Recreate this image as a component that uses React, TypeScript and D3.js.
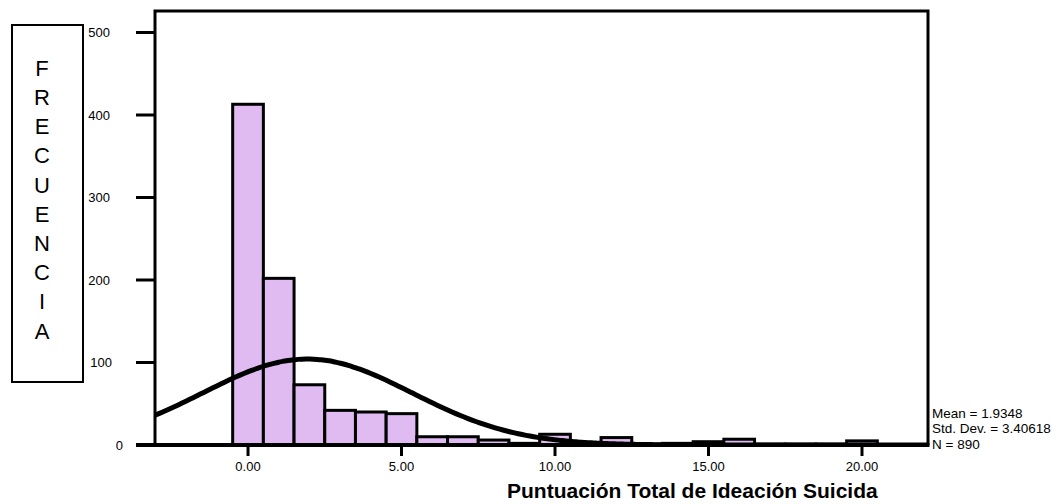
import React, { useRef, useEffect } from 'react';
import { select, scaleLinear, line, curveBasis } from 'd3';

// histogram bins (centered on integers, width 1)
const binCenters = [0, 1, 2, 3, 4, 5, 6, 7, 8, 9, 10, 11, 12, 13, 14, 15, 16, 17, 18, 19, 20, 21, 22];
const binCounts = [413, 202, 73, 42, 40, 38, 10, 10, 6, 2, 13, 2, 9, 1, 2, 4, 7, 1, 1, 1, 5, 0, 0];

const yTicks = [0, 100, 200, 300, 400, 500];
const xTicks = [0, 5, 10, 15, 20];

const mean = 1.9348;
const stdDev = 3.40618;
const n = 890;

const yLetters = ['F', 'R', 'E', 'C', 'U', 'E', 'N', 'C', 'I', 'A'];
const xTitle = 'Puntuación Total de Ideación Suicida';
const statLines = ['Mean = 1.9348', 'Std. Dev. = 3.40618', 'N = 890'];

const FONT = "Arial, 'Liberation Sans', sans-serif";

const App = () => {
  const svgRef = useRef(null);
  const width = 1055;
  const height = 504;
  const left = 155, right = 928, top = 11, bottom = 445;

  useEffect(() => {
    const svg = select(svgRef.current);
    svg.selectAll('*').remove();

    const x = scaleLinear().domain([-3.03, 22.15]).range([left, right]);
    const y = scaleLinear().domain([0, 100]).range([bottom, bottom - 82.5]);

    svg.append('defs').append('clipPath').attr('id', 'plot-clip')
      .append('rect')
      .attr('x', left).attr('y', top)
      .attr('width', right - left).attr('height', bottom - top);

    const plot = svg.append('g').attr('clip-path', 'url(#plot-clip)');

    // bars
    plot.selectAll('.bar')
      .data(binCounts)
      .join('rect')
      .attr('class', 'bar')
      .attr('x', (d, i) => x(binCenters[i] - 0.5))
      .attr('y', d => y(d))
      .attr('width', x(1) - x(0))
      .attr('height', d => bottom - y(d))
      .attr('fill', '#dfbbf2')
      .attr('stroke', '#000')
      .attr('stroke-width', 3);

    // normal curve
    const [x0, x1] = x.domain();
    const pts = [];
    for (let k = 0; k <= 200; k++) {
      const v = x0 + (x1 - x0) * k / 200;
      const z = (v - mean) / stdDev;
      pts.push([v, n / (stdDev * Math.sqrt(2 * Math.PI)) * Math.exp(-0.5 * z * z)]);
    }
    plot.append('path')
      .attr('d', line().x(d => x(d[0])).y(d => y(d[1])).curve(curveBasis)(pts))
      .attr('fill', 'none')
      .attr('stroke', '#000')
      .attr('stroke-width', 5);

    // frame
    svg.append('path')
      .attr('d', `M${left},${bottom} V${top} H${right} V${bottom}`)
      .attr('fill', 'none')
      .attr('stroke', '#000')
      .attr('stroke-width', 3);
    svg.append('line')
      .attr('x1', 136).attr('x2', right + 1.5)
      .attr('y1', bottom).attr('y2', bottom)
      .attr('stroke', '#000').attr('stroke-width', 4);

    // y axis
    const yAxis = svg.append('g');
    yAxis.selectAll('line').data(yTicks).join('line')
      .attr('x1', 136).attr('x2', left)
      .attr('y1', d => y(d)).attr('y2', d => y(d))
      .attr('stroke', '#000').attr('stroke-width', 3);
    yAxis.selectAll('text').data(yTicks).join('text')
      .attr('x', d => (d === 0 ? 123 : d === 100 ? 112 : 110))
      .attr('y', d => y(d))
      .attr('dy', '0.35em')
      .attr('text-anchor', 'end')
      .attr('font-size', 13)
      .attr('font-family', FONT)
      .text(d => d);

    // x axis
    const xAxis = svg.append('g');
    xAxis.selectAll('line').data(xTicks).join('line')
      .attr('x1', d => x(d)).attr('x2', d => x(d))
      .attr('y1', bottom).attr('y2', 456)
      .attr('stroke', '#000').attr('stroke-width', 3);
    xAxis.selectAll('text').data(xTicks).join('text')
      .attr('x', d => x(d))
      .attr('y', 471)
      .attr('text-anchor', 'middle')
      .attr('font-size', 13)
      .attr('font-family', FONT)
      .text(d => d.toFixed(2));

    svg.append('text')
      .attr('x', 507).attr('y', 498)
      .attr('font-size', 21)
      .attr('font-weight', 'bold')
      .attr('font-family', FONT)
      .text(xTitle);

    // stats
    svg.selectAll('.stat').data(statLines).join('text')
      .attr('class', 'stat')
      .attr('x', 932)
      .attr('y', (d, i) => 413 + i * 15.5)
      .attr('dy', '0.35em')
      .attr('font-size', 13.5)
      .attr('font-family', FONT)
      .text(d => d);

    // y label box
    svg.append('rect')
      .attr('x', 12).attr('y', 25)
      .attr('width', 71).attr('height', 357)
      .attr('fill', 'none')
      .attr('stroke', '#000').attr('stroke-width', 2);
    svg.selectAll('.ylet').data(yLetters).join('text')
      .attr('class', 'ylet')
      .attr('x', 42)
      .attr('y', (d, i) => 68 + i * 29.2)
      .attr('dy', '0.35em')
      .attr('text-anchor', 'middle')
      .attr('font-size', 22)
      .attr('font-family', FONT)
      .text(d => d);
  }, []);

  return (
    <svg ref={svgRef} width={width} height={height}
      style={{ position: 'absolute', left: 0, top: 0, background: '#fff' }} />
  );
};

export default App;
